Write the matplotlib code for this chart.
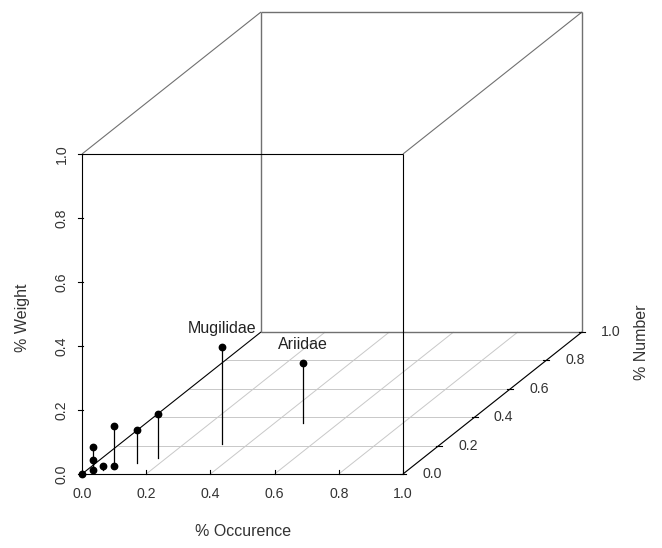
import matplotlib
matplotlib.use("Agg")
import matplotlib.pyplot as plt
import numpy as np

plt.rcParams['font.family'] = ['Liberation Sans', 'DejaVu Sans']

# ---- data (proportions) ----
occurrence = [0.0, 0.022, 0.022, 0.022, 0.05, 0.069, 0.069, 0.127, 0.176, 0.32, 0.488]
number     = [0.0, 0.020, 0.020, 0.020, 0.03, 0.056, 0.056, 0.080, 0.110, 0.211, 0.357]
weight     = [0.0, 0.075, 0.035, 0.003, 0.012, 0.0, 0.125, 0.102, 0.1375, 0.304, 0.19]
point_labels = ["", "", "", "", "", "", "", "", "", "Mugilidae", "Ariidae"]
tick_values = [0.0, 0.2, 0.4, 0.6, 0.8, 1.0]
tick_labels = ["0.0", "0.2", "0.4", "0.6", "0.8", "1.0"]
xlabel = "% Occurence"
ylabel = "% Number"
zlabel = "% Weight"

# ---- projection (scatterplot3d-like oblique) ----
W, H = 662, 548
O = np.array([82.0, 474.0])
UX = np.array([321.0, 0.0])
UY = np.array([179.0, -142.0])
UZ = np.array([0.0, -320.0])


def proj(x, y, z):
    x = np.asarray(x, float); y = np.asarray(y, float); z = np.asarray(z, float)
    sx = O[0] + x * UX[0] + y * UY[0] + z * UZ[0]
    sy = O[1] + x * UX[1] + y * UY[1] + z * UZ[1]
    return sx, sy


fig = plt.figure(figsize=(W / 100, H / 100), dpi=100)
ax = fig.add_axes([0, 0, 1, 1])
ax.set_xlim(0, W)
ax.set_ylim(H, 0)
ax.axis('off')


def seg(p, q, **kw):
    xs, ys = proj([p[0], q[0]], [p[1], q[1]], [p[2], q[2]])
    ax.plot(xs, ys, solid_capstyle='butt', **kw)


# grid on the z=0 plane
gcol = '#c8c8c8'
for v in tick_values[1:]:
    seg((v, 0, 0), (v, 1, 0), color=gcol, lw=0.7)
    seg((0, v, 0), (1, v, 0), color=gcol, lw=0.7)

# back box lines
bcol = '#707070'
seg((0, 1, 1), (1, 1, 1), color=bcol, lw=1.0)
seg((0, 1, 0), (0, 1, 1), color=bcol, lw=1.0)
seg((1, 1, 0), (1, 1, 1), color=bcol, lw=1.0)
seg((0, 1, 0), (1, 1, 0), color=bcol, lw=1.0)
seg((0, 0, 1), (0, 1, 1), color=bcol, lw=0.8)
seg((1, 0, 1), (1, 1, 1), color=bcol, lw=0.8)

# front box / axes
fcol = 'black'
seg((0, 0, 0), (1, 0, 0), color=fcol, lw=0.8)
seg((0, 0, 0), (0, 0, 1), color=fcol, lw=0.8)
seg((0, 0, 1), (1, 0, 1), color=fcol, lw=0.8)
seg((1, 0, 0), (1, 0, 1), color=fcol, lw=0.8)
seg((0, 0, 0), (0, 1, 0), color=fcol, lw=0.8)
seg((1, 0, 0), (1, 1, 0), color=fcol, lw=0.8)

# ticks and tick labels
tfs = 10.2
for v, lab in zip(tick_values, tick_labels):
    # x axis
    sx, sy = proj(v, 0, 0)
    ax.plot([sx, sx], [sy, sy - 4], color='black', lw=0.8)
    ax.text(sx, sy + 20, lab, ha='center', va='center', fontsize=tfs, color='#333333')
    # z axis
    sx, sy = proj(0, 0, v)
    ax.plot([sx - 4, sx + 1], [sy, sy], color='black', lw=0.8)
    ax.text(sx - 20, sy, lab, ha='center', va='center', rotation=90, fontsize=tfs, color='#333333')
    # y axis
    sx, sy = proj(1, v, 0)
    ax.plot([sx - 3, sx + 3], [sy, sy], color='black', lw=0.8)
    ax.text(sx + 29, sy, lab, ha='center', va='center', fontsize=tfs, color='#333333')

# axis labels
ax.text(243, 532, xlabel, ha='center', va='center', fontsize=11.5, color='#333333')
ax.text(22, 318, zlabel, ha='center', va='center', rotation=90, fontsize=11.5, color='#333333')
ax.text(641, 342, ylabel, ha='center', va='center', rotation=90, fontsize=11.5, color='#333333')

# points with drop lines (type = "h")
px, py = proj(occurrence, number, weight)
bx, by = proj(occurrence, number, np.zeros(len(weight)))
for i in range(len(px)):
    ax.plot([bx[i], px[i]], [by[i], py[i]], color='black', lw=0.9)
ax.plot(px, py, 'o', color='black', markersize=4.6, zorder=5)

for i, lab in enumerate(point_labels):
    if lab:
        ax.text(px[i], py[i] - 18, lab, ha='center', va='center', fontsize=11.5, color='#222222')

fig.savefig('out.png', dpi=100)
